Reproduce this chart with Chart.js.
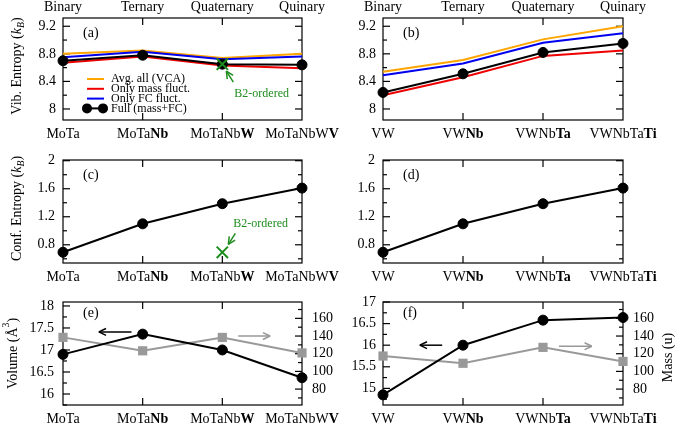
<!DOCTYPE html>
<html>
<head>
<meta charset="utf-8">
<script src="https://cdn.jsdelivr.net/npm/chart.js@4.4.1/dist/chart.umd.min.js"></script>
<style>
  body { margin: 0; background: #fff; }
  #wrap { position: relative; width: 675px; height: 427px; }
  #wrap canvas { position: absolute; left: 0; top: 0; }
</style>
</head>
<body>
<div id="wrap">
  <canvas id="panelA" width="675" height="427"></canvas>
  <canvas id="panelB" width="675" height="427"></canvas>
  <canvas id="panelC" width="675" height="427"></canvas>
  <canvas id="panelD" width="675" height="427"></canvas>
  <canvas id="panelE" width="675" height="427"></canvas>
  <canvas id="panelF" width="675" height="427"></canvas>
</div>
<script>
// categories (the added element is printed in bold)
const groups = ["Binary", "Ternary", "Quaternary", "Quinary"];
const moAlloys = ["MoTa", "MoTaNb", "MoTaNbW", "MoTaNbWV"];
const moAdded = ["", "Nb", "W", "V"];
const vAlloys = ["VW", "VWNb", "VWNbTa", "VWNbTaTi"];
const vAdded = ["", "Nb", "Ta", "Ti"];

// vibrational entropy (kB)
const moVca = [8.80, 8.85, 8.74, 8.80];
const moMass = [8.67, 8.76, 8.63, 8.59];
const moFc = [8.75, 8.83, 8.72, 8.76];
const moFull = [8.70, 8.78, 8.65, 8.64];
const moB2Vib = [null, null, 8.65, null];
const vVca = [8.54, 8.71, 9.01, 9.20];
const vMass = [8.20, 8.46, 8.77, 8.85];
const vFc = [8.49, 8.66, 8.96, 9.10];
const vFull = [8.24, 8.51, 8.82, 8.95];

// configurational entropy (kB)
const moConf = [0.693, 1.099, 1.386, 1.609];
const moB2Conf = [null, null, 0.693, null];
const vConf = [0.693, 1.099, 1.386, 1.609];

// volume (A^3) and average mass (u)
const moVolume = [16.90, 17.36, 17.00, 16.37];
const moAvgMass = [138.5, 123.3, 138.4, 120.9];
const vVolume = [14.85, 16.00, 16.58, 16.64];
const vAvgMass = [117.4, 109.2, 127.2, 111.3];

// tick labels
const vibTicks = [8, 8.4, 8.8, 9.2];
const confTicks = [0.8, 1.2, 1.6, 2];
const moVolTicks = [16, 16.5, 17, 17.5, 18];
const vVolTicks = [15, 15.5, 16, 16.5, 17];
const massTicks = [80, 100, 120, 140, 160];

const W = 675, H = 427;
const SERIF = '"Liberation Serif", "Times New Roman", serif';
const GREEN = "#1e8c1e";
const GRAY = "#999999";

function line(ctx, x0, y0, x1, y1) {
  ctx.beginPath(); ctx.moveTo(x0, y0); ctx.lineTo(x1, y1); ctx.stroke();
}

function arrow(ctx, x0, y0, x1, y1, color) {
  ctx.save();
  ctx.strokeStyle = color; ctx.lineWidth = 1.5;
  line(ctx, x0, y0, x1, y1);
  const a = Math.atan2(y1 - y0, x1 - x0);
  [0.45, -0.45].forEach(d => line(ctx, x1, y1, x1 - 8 * Math.cos(a + d), y1 - 8 * Math.sin(a + d)));
  ctx.restore();
}

// draw a run of text pieces (bold / italic / sub / sup)
function drawRuns(ctx, runs, x, y, align, size) {
  const font = r => (r.i ? "italic " : "") + (r.b ? "bold " : "") + ((r.sub || r.sup) ? size * 0.7 : size) + "px " + SERIF;
  let w = 0;
  runs.forEach(r => { ctx.font = font(r); w += ctx.measureText(r.t).width; });
  let cx = align === "center" ? x - w / 2 : align === "right" ? x - w : x;
  ctx.textAlign = "left";
  runs.forEach(r => {
    ctx.font = font(r);
    const dy = r.sub ? size * 0.3 : r.sup ? -size * 0.45 : 0;
    ctx.fillText(r.t, cx, y + dy);
    cx += ctx.measureText(r.t).width;
  });
}

function yMarks(ctx, scale, x, dir) {
  const vals = scale.ticks.map(t => t.value);
  const step = vals[1] - vals[0];
  vals.forEach(v => { const p = scale.getPixelForValue(v); line(ctx, x, p, x + dir * 7, p); });
  for (let v = vals[0] - step / 2; v <= scale.max; v += step) {
    if (v >= scale.min) { const p = scale.getPixelForValue(v); line(ctx, x, p, x + dir * 4, p); }
  }
}

const decor = cfg => ({
  id: "decor",
  beforeDatasetsDraw(chart) {
    const { ctx, chartArea: a } = chart;
    ctx.save();
    ctx.strokeStyle = "#000"; ctx.lineWidth = 1.2;
    ctx.strokeRect(a.left, a.top, a.right - a.left, a.bottom - a.top);
    const xs = chart.scales.x;
    for (let i = 1; i < chart.data.labels.length - 1; i++) {
      const px = xs.getPixelForValue(i);
      line(ctx, px, a.top, px, a.top + 7);
      line(ctx, px, a.bottom, px, a.bottom - 7);
    }
    yMarks(ctx, chart.scales.y, a.left, 1);
    yMarks(ctx, chart.scales.y2 || chart.scales.y, a.right, -1);
    ctx.restore();
  },
  afterDraw(chart) {
    const { ctx, chartArea: a } = chart;
    const xs = chart.scales.x;
    ctx.save();
    ctx.fillStyle = "#000";
    ctx.textBaseline = "alphabetic";
    // category labels
    cfg.labels.forEach((lab, i) => {
      const bold = cfg.added[i];
      const plain = lab.slice(0, lab.length - bold.length);
      drawRuns(ctx, [{ t: plain }, { t: bold, b: true }], xs.getPixelForValue(i), a.bottom + 18, "center", 14);
    });
    if (cfg.top) cfg.top.forEach((g, i) => drawRuns(ctx, [{ t: g }], xs.getPixelForValue(i), 11, "center", 14));
    // panel tag
    ctx.textBaseline = "middle";
    drawRuns(ctx, [{ t: cfg.tag }], a.left + 20, a.top + cfg.tagDy, "left", 14);
    // axis titles
    (cfg.titles || []).forEach(tt => {
      ctx.save();
      ctx.translate(tt.x, (a.top + a.bottom) / 2 + (tt.dy || 0));
      ctx.rotate(-Math.PI / 2);
      drawRuns(ctx, tt.runs, 0, 0, "center", 14);
      ctx.restore();
    });
    // legend
    if (cfg.legend) {
      cfg.legend.forEach((di, k) => {
        const ds = chart.data.datasets[di];
        const y = a.top + 61 + k * 9.8;
        ctx.strokeStyle = ds.borderColor; ctx.lineWidth = 2;
        line(ctx, a.left + 24, y, a.left + 41, y);
        if (ds.pointRadius) {
          ctx.fillStyle = ds.borderColor;
          [a.left + 24, a.left + 40].forEach(cx => { ctx.beginPath(); ctx.arc(cx, y, 5, 0, 2 * Math.PI); ctx.fill(); });
        }
        ctx.fillStyle = "#000";
        drawRuns(ctx, [{ t: ds.label }], a.left + 48, y, "left", 12);
      });
    }
    // B2-ordered note
    if (cfg.note) {
      const n = cfg.note;
      const mx = xs.getPixelForValue(n.index), my = chart.scales.y.getPixelForValue(n.value);
      arrow(ctx, mx + n.tail[0], my + n.tail[1], mx + n.head[0], my + n.head[1], GREEN);
      ctx.fillStyle = GREEN;
      drawRuns(ctx, [{ t: "B2-ordered" }], mx + n.text[0], my + n.text[1], "left", 12);
    }
    // axis arrows
    (cfg.arrows || []).forEach(ar => {
      const ys = chart.scales[ar.axis];
      arrow(ctx, xs.getPixelForValue(ar.x0), ys.getPixelForValue(ar.y), xs.getPixelForValue(ar.x1), ys.getPixelForValue(ar.y), ar.color);
    });
    ctx.restore();
  }
});

function yAxis(ax, position, w) {
  return {
    position, min: ax.min, max: ax.max,
    grid: { display: false, drawTicks: false },
    border: { display: false },
    ticks: { padding: ax.pad, color: "#000", font: { family: SERIF, size: 14 }, callback: v => String(v) },
    afterBuildTicks: s => { s.ticks = ax.ticks.map(v => ({ value: v })); },
    afterFit: s => { s.width = w; }
  };
}

function makePanel(id, box, cfg) {
  const yW = 40;
  const scales = { x: { type: "category", display: false, offset: false }, y: yAxis(cfg.y, "left", yW) };
  if (cfg.y2) scales.y2 = yAxis(cfg.y2, "right", yW);
  return new Chart(document.getElementById(id), {
    type: "line",
    data: { labels: cfg.labels, datasets: cfg.datasets },
    options: {
      responsive: false,
      animation: false,
      layout: { padding: { left: box.left - yW, right: W - box.right - (cfg.y2 ? yW : 0), top: box.top, bottom: H - box.bottom } },
      scales,
      plugins: { legend: { display: false }, tooltip: { enabled: false } }
    },
    plugins: [decor(cfg)]
  });
}

const lineDs = (label, data, color, extra) => Object.assign({
  label, data, borderColor: color, backgroundColor: color, borderWidth: 2,
  pointRadius: 0, tension: 0, clip: false
}, extra);
const fullDs = (label, data, axis) => lineDs(label, data, "#000", { pointRadius: 5, pointBorderWidth: 1, yAxisID: axis || "y" });
const b2Ds = data => lineDs("B2-ordered", data, GREEN, { showLine: false, pointStyle: "crossRot", pointRadius: 8, pointBorderWidth: 2 });
const massDs = data => lineDs("Mass", data, GRAY, { pointStyle: "rect", pointRadius: 6.5, pointBorderWidth: 0, yAxisID: "y2" });

const vibTitle = [{ t: "Vib. Entropy (" }, { t: "k", i: true }, { t: "B", i: true, sub: true }, { t: ")" }];
const confTitle = [{ t: "Conf. Entropy (" }, { t: "k", i: true }, { t: "B", i: true, sub: true }, { t: ")" }];
const volTitle = [{ t: "Volume (Å" }, { t: "3", sup: true }, { t: ")" }];
const massTitle = [{ t: "Mass (u)" }];

const vibAxis = { min: 7.84, max: 9.32, ticks: vibTicks, pad: 7 };
const confAxis = { min: 0.54, max: 2.01, ticks: confTicks, pad: 8 };
const massAxis = { min: 62, max: 178.5, ticks: massTicks, pad: 10 };

const leftCol = { left: 63, right: 302 }, rightCol = { left: 383, right: 623 };

makePanel("panelA", { ...leftCol, top: 18, bottom: 120 }, {
  labels: moAlloys, added: moAdded, top: groups, tag: "(a)", tagDy: 15,
  y: vibAxis,
  titles: [{ x: 17, runs: vibTitle, dy: -3 }],
  datasets: [
    b2Ds(moB2Vib),
    fullDs("Full (mass+FC)", moFull),
    lineDs("Only FC fluct.", moFc, "#0000ee"),
    lineDs("Only mass fluct.", moMass, "#ee0000"),
    lineDs("Avg. all (VCA)", moVca, "#ffa500")
  ],
  legend: [4, 3, 2, 1],
  note: { index: 2, value: moB2Vib[2], head: [4, 7], tail: [11, 18], text: [12, 30] }
});

makePanel("panelB", { ...rightCol, top: 18, bottom: 120 }, {
  labels: vAlloys, added: vAdded, top: groups, tag: "(b)", tagDy: 15,
  y: vibAxis,
  datasets: [
    fullDs("Full (mass+FC)", vFull),
    lineDs("Only FC fluct.", vFc, "#0000ee"),
    lineDs("Only mass fluct.", vMass, "#ee0000"),
    lineDs("Avg. all (VCA)", vVca, "#ffa500")
  ]
});

makePanel("panelC", { ...leftCol, top: 160, bottom: 263 }, {
  labels: moAlloys, added: moAdded, tag: "(c)", tagDy: 15,
  y: confAxis,
  titles: [{ x: 17, runs: confTitle, dy: -3 }],
  datasets: [b2Ds(moB2Conf), fullDs("Conf", moConf)],
  note: { index: 2, value: moB2Conf[2], head: [6, -8], tail: [13, -19], text: [11, -28] }
});

makePanel("panelD", { ...rightCol, top: 160, bottom: 263 }, {
  labels: vAlloys, added: vAdded, tag: "(d)", tagDy: 15,
  y: confAxis,
  datasets: [fullDs("Conf", vConf)]
});

makePanel("panelE", { ...leftCol, top: 302, bottom: 405 }, {
  labels: moAlloys, added: moAdded, tag: "(e)", tagDy: 11,
  y: { min: 15.75, max: 18.09, ticks: moVolTicks, pad: 9 },
  y2: massAxis,
  titles: [{ x: 13, runs: volTitle }],
  datasets: [fullDs("Volume", moVolume), massDs(moAvgMass)],
  arrows: [
    { axis: "y", x0: 0.86, x1: 0.45, y: 17.41, color: "#000" },
    { axis: "y2", x0: 2.2, x1: 2.6, y: 140, color: GRAY }
  ]
});

makePanel("panelF", { ...rightCol, top: 302, bottom: 405 }, {
  labels: vAlloys, added: vAdded, tag: "(f)", tagDy: 11,
  y: { min: 14.615, max: 17.0, ticks: vVolTicks, pad: 7 },
  y2: massAxis,
  titles: [{ x: 668, runs: massTitle, dy: 4 }],
  datasets: [fullDs("Volume", vVolume), massDs(vAvgMass)],
  arrows: [
    { axis: "y", x0: 0.74, x1: 0.46, y: 16.0, color: "#000" },
    { axis: "y2", x0: 2.2, x1: 2.61, y: 128.5, color: GRAY }
  ]
});
</script>
</body>
</html>
